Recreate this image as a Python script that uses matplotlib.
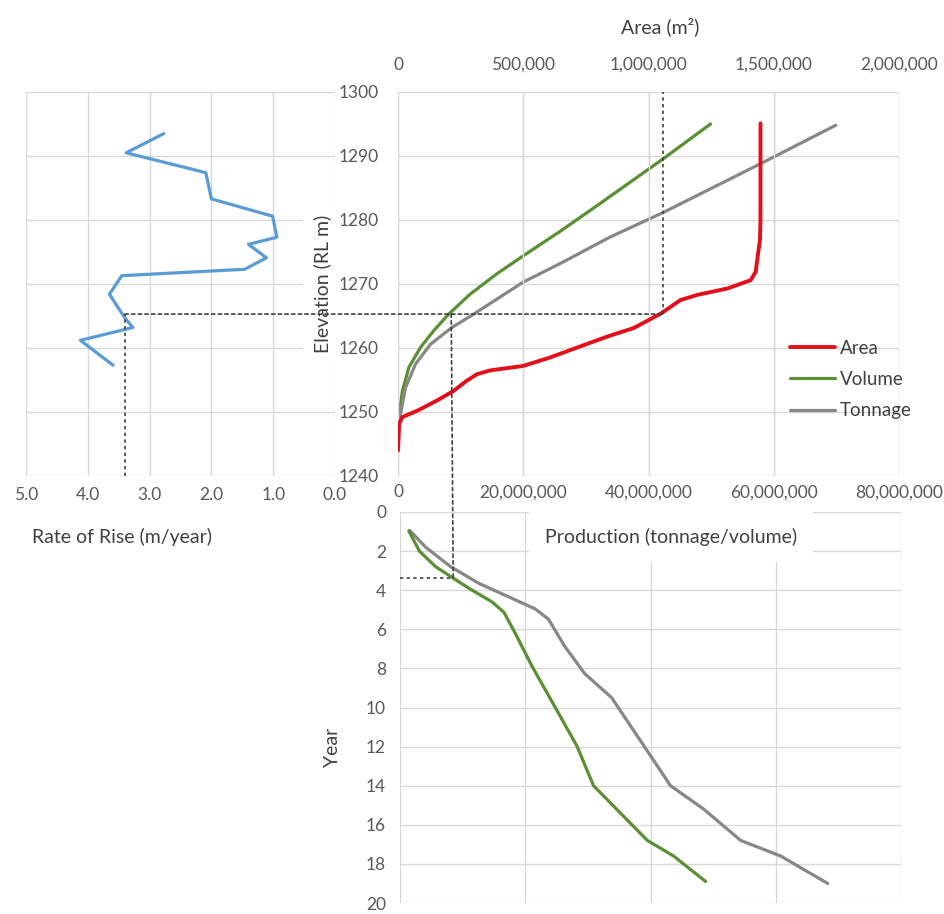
import matplotlib
matplotlib.use("Agg")
import matplotlib.pyplot as plt
from matplotlib.patches import ConnectionPatch
from matplotlib.ticker import FuncFormatter

plt.rcParams["font.family"] = ["Lato", "DejaVu Sans"]
plt.rcParams["lines.solid_joinstyle"] = "round"
plt.rcParams["lines.solid_capstyle"] = "round"

# rate of rise (m/year) against elevation (RL m)
rate_elev = [1293.5, 1290.5, 1287.4, 1283.3, 1280.6, 1277.3, 1276.2, 1274.1,
             1272.3, 1271.3, 1268.4, 1264.7, 1263.2, 1261.2, 1257.3]
rate = [2.77, 3.38, 2.09, 2.00, 1.01, 0.94, 1.40, 1.11,
        1.46, 3.45, 3.65, 3.40, 3.27, 4.12, 3.59]

# area (m2) against elevation
area_elev = [1244.0, 1248.1, 1249.2, 1250.2, 1251.8, 1253.3, 1254.9, 1255.9,
             1256.5, 1257.2, 1258.5, 1260.4, 1261.9, 1263.1, 1265.4, 1267.5,
             1268.3, 1269.3, 1270.6, 1271.9, 1273.8, 1276.9, 1280.0, 1295.1]
area = [0, 4000, 17000, 77000, 156000, 222000, 275000, 315000,
        368000, 500000, 606000, 738000, 844000, 940000, 1050000, 1128000,
        1195000, 1315000, 1408000, 1428000, 1434000, 1445000, 1447000, 1447000]

# cumulative volume / tonnage against elevation
vol_elev = [1245.0, 1249.2, 1253.3, 1257.0, 1260.1, 1262.7, 1265.3, 1268.4,
            1271.6, 1274.4, 1278.3, 1282.6, 1289.6, 1295.0]
vol = [0, 0.16e6, 0.7e6, 1.75e6, 3.6e6, 5.7e6, 8.1e6, 11.5e6,
       15.8e6, 20.0e6, 26.0e6, 32.3e6, 42.4e6, 49.9e6]
ton_elev = [1244.0, 1249.2, 1253.8, 1257.5, 1260.6, 1263.2, 1265.3, 1270.3,
            1273.3, 1277.3, 1281.2, 1288.8, 1294.8]
ton = [0, 0.3e6, 1.2e6, 2.8e6, 5.2e6, 8.6e6, 12.1e6, 20.0e6,
       26.1e6, 33.8e6, 42.4e6, 57.9e6, 69.9e6]

# production against year
vol_year = [0.96, 2.0, 2.8, 3.3, 3.9, 4.6, 5.13, 6.2, 7.9, 10.0, 12.0, 14.0,
            15.4, 16.8, 17.6, 18.9]
vol_prod = [1.4e6, 3.1e6, 5.7e6, 8.1e6, 11.0e6, 14.7e6, 16.6e6, 18.4e6,
            21.1e6, 24.8e6, 28.3e6, 30.9e6, 35.2e6, 39.5e6, 43.7e6, 48.8e6]
ton_year = [0.96, 1.8, 2.8, 3.65, 4.26, 4.96, 5.48, 6.87, 8.27, 9.5, 11.7,
            14.0, 15.2, 16.8, 17.6, 19.0]
ton_prod = [1.6e6, 4.1e6, 8.1e6, 12.6e6, 16.8e6, 21.6e6, 23.7e6, 26.3e6,
            29.5e6, 33.8e6, 38.4e6, 43.2e6, 48.5e6, 54.4e6, 60.8e6, 68.3e6]

# worked example guide lines
guide_elev = 1265.3
guide_rate = 3.4
guide_area = 1058000
guide_prod = 8.5e6
guide_year = 3.36

W, H = 944, 914
fig = plt.figure(figsize=(W / 100, H / 100), dpi=100)


def box(x0, y0, x1, y1):
    return [x0 / W, 1 - y1 / H, (x1 - x0) / W, (y1 - y0) / H]


GRID = "#d9d9d9"
TICK = "#595959"
TITLE = "#404040"
RED = "#e3101b"
GREEN = "#5a8f33"
GRAY = "#878787"
BLUE = "#5b9bd5"
DASH = dict(color="#404040", lw=1.2, linestyle=(0, (2, 2)))


def style(ax, grid=True):
    for s in ax.spines.values():
        s.set_visible(False)
    ax.grid(grid, color=GRID, lw=1)
    ax.tick_params(length=0, colors=TICK, labelsize=12.5)
    ax.set_axisbelow(True)


comma = FuncFormatter(lambda v, p: f"{v:,.0f}")

# left panel: rate of rise
ax_rate = fig.add_axes(box(26, 92, 335, 476))
style(ax_rate)
ax_rate.plot(rate, rate_elev, color=BLUE, lw=2.3)
ax_rate.set_xlim(5, 0)
ax_rate.set_ylim(1240, 1300)
ax_rate.set_xticks([5, 4, 3, 2, 1, 0])
ax_rate.xaxis.set_major_formatter(FuncFormatter(lambda v, p: f"{v:.1f}"))
ax_rate.set_yticks(range(1240, 1301, 10))
ax_rate.tick_params(labelleft=False)
ax_rate.tick_params(axis="x", pad=8)
ax_rate.plot([guide_rate, guide_rate], [1240, guide_elev], **DASH)

# top right panel: area / volume / tonnage by elevation
ax_prod = fig.add_axes(box(398, 92, 899, 476))
style(ax_prod)
ax_prod.set_xlim(0, 80e6)
ax_prod.set_ylim(1240, 1300)
ax_prod.set_xticks(range(0, 80000001, 20000000))
ax_prod.xaxis.set_major_formatter(comma)
ax_prod.set_yticks(range(1240, 1301, 10))
ax_prod.tick_params(axis="x", pad=6)
ax_prod.tick_params(axis="y", pad=14)
l_vol, = ax_prod.plot(vol, vol_elev, color=GREEN, lw=2.3, label="Volume")
l_ton, = ax_prod.plot(ton, ton_elev, color=GRAY, lw=2.3, label="Tonnage")

ax_area = ax_prod.twiny()
style(ax_area, grid=False)
ax_area.set_xlim(0, 2e6)
ax_area.set_xticks(range(0, 2000001, 500000))
ax_area.xaxis.set_major_formatter(comma)
ax_area.tick_params(axis="x", pad=14)
l_area, = ax_area.plot(area, area_elev, color=RED, lw=2.8, label="Area")
ax_area.plot([guide_area, guide_area], [guide_elev, 1300], **DASH)

fig.legend(handles=[l_area, l_vol, l_ton], loc="upper left",
           bbox_to_anchor=(790 / W, 1 - 340 / H), frameon=False,
           fontsize=13.5, handlelength=2.4, handletextpad=0.25,
           labelspacing=0.75, borderpad=0, borderaxespad=0,
           labelcolor=TITLE)

# bottom panel: production by year
ax_year = fig.add_axes(box(400, 512, 901, 903))
style(ax_year)
ax_year.set_xlim(0, 80e6)
ax_year.set_ylim(20, 0)
ax_year.set_xticks(range(0, 80000001, 20000000))
ax_year.set_yticks(range(0, 21, 2))
ax_year.tick_params(labelbottom=False)
ax_year.tick_params(axis="y", pad=10)
ax_year.plot(ton_prod, ton_year, color=GRAY, lw=2.3)
ax_year.plot(vol_prod, vol_year, color=GREEN, lw=2.3)
ax_year.plot([0, guide_prod], [guide_year, guide_year], **DASH)

# guide lines that run across panels
c1 = ConnectionPatch(xyA=(guide_rate, guide_elev), coordsA=ax_rate.transData,
                     xyB=(guide_area, guide_elev), coordsB=ax_area.transData,
                     arrowstyle="-", shrinkA=0, shrinkB=0, zorder=5, **DASH)
fig.add_artist(c1)
c2 = ConnectionPatch(xyA=(guide_prod, guide_elev), coordsA=ax_prod.transData,
                     xyB=(guide_prod, guide_year), coordsB=ax_year.transData,
                     arrowstyle="-", shrinkA=0, shrinkB=0, zorder=5, **DASH)
fig.add_artist(c2)

# axis titles
white = dict(facecolor="white", edgecolor="none", boxstyle="square,pad=0.5")
fig.text(660 / W, 1 - 27 / H, "Area (m²)", ha="center", va="center",
         fontsize=14, color=TITLE)
fig.text(322 / W, 1 - 284 / H, "Elevation (RL m)", rotation=90, ha="center",
         va="center", fontsize=14, color=TITLE, bbox=white)
fig.text(122 / W, 1 - 537 / H, "Rate of Rise (m/year)", ha="center",
         va="center", fontsize=14, color=TITLE)
fig.text(671 / W, 1 - 537 / H, "Production (tonnage/volume)", ha="center",
         va="center", fontsize=14, color=TITLE,
         bbox=dict(facecolor="white", edgecolor="none",
                   boxstyle="square,pad=0.8"))
fig.text(333 / W, 1 - 747 / H, "Year", rotation=90, ha="center",
         va="center", fontsize=14, color=TITLE)

fig.savefig("out.png", dpi=100)
